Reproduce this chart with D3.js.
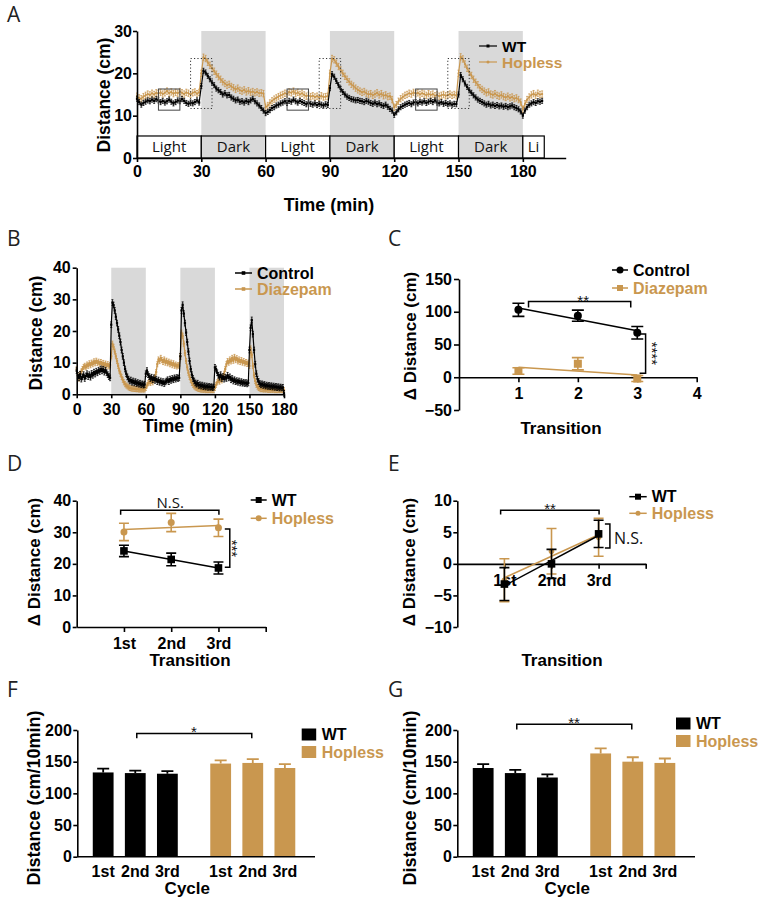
<!DOCTYPE html>
<html>
<head>
<meta charset="utf-8">
<script src="https://cdn.jsdelivr.net/npm/d3@7/dist/d3.min.js"></script>
<style>
html,body{margin:0;padding:0;background:#fff;}
svg{display:block;}
</style>
</head>
<body>
<svg id="fig" width="758" height="900"></svg>
<script>
// ================= DATA =================
// Panel A : distance per 1-min bin, 0–189 min
const aWT = [
 14.0,13.2,12.6,13.0,13.3,13.6,13.4,13.8,13.5,13.9, 13.6,13.2,13.5,13.1,13.4,13.8,13.3,12.9,13.2,13.6, 13.4,13.9,13.5,13.0,12.8,13.1,12.9,13.2,13.6,13.1,
 17.0,20.6,20.2,19.4,18.6,17.8,17.2,16.4,16.0,15.6, 15.0,15.3,14.8,14.9,14.3,14.0,13.6,13.8,13.3,13.4, 13.1,13.5,13.2,13.6,14.0,13.4,12.9,12.4,11.8,11.2,
 10.6,10.9,11.3,11.8,12.0,12.4,12.6,12.9,13.1,13.4, 13.0,13.5,13.3,13.8,13.4,13.1,13.5,13.2,13.0,12.7, 13.1,12.8,12.6,12.9,12.5,12.8,12.6,12.4,12.7,12.5,
 16.5,19.8,19.2,18.2,17.2,16.3,15.6,15.0,14.5,14.2, 13.9,13.8,13.6,13.7,13.5,13.4,13.2,13.5,13.3,13.0, 12.8,13.1,12.7,12.9,12.5,12.3,12.6,12.1,11.6,11.2,
 10.2,10.8,11.5,12.0,12.3,12.6,12.8,13.0,12.7,13.1, 13.2,12.9,13.3,13.1,13.4,13.0,13.3,13.5,13.2,13.6, 13.1,12.9,13.2,12.8,13.0,12.7,12.9,12.6,12.8,12.7,
 15.0,19.6,18.6,17.6,16.8,16.0,15.4,14.8,14.3,13.8, 13.5,13.2,12.9,12.6,12.8,12.4,12.6,12.3,12.5,12.2, 12.4,12.1,12.3,12.0,12.2,12.4,12.0,11.8,11.5,11.0,
 10.0,11.2,12.0,12.6,12.9,13.2,13.0,13.4,13.3,13.5
];
const aHopless = [
 14.6,14.2,14.0,14.5,14.8,15.1,14.9,15.3,15.0,15.4, 15.2,15.5,15.1,15.4,15.8,15.3,15.6,15.2,15.5,15.3, 15.7,15.4,15.1,15.5,15.3,15.0,15.4,15.6,15.2,15.5,
 20.0,23.8,23.5,22.6,21.9,21.2,20.5,19.8,19.2,18.6, 18.0,17.6,17.2,17.4,16.9,16.6,16.2,16.5,16.0,15.8, 16.1,15.6,15.9,15.5,15.7,15.4,15.6,15.3,15.4,15.2,
 12.0,12.4,13.0,13.5,13.9,14.2,14.5,14.8,15.0,15.3, 15.1,15.6,15.4,15.8,15.2,15.5,15.0,15.3,14.9,14.6, 14.8,14.5,14.7,14.4,14.6,14.3,14.7,14.4,14.5,14.6,
 20.0,23.5,23.2,22.4,21.6,20.8,20.0,19.3,18.6,18.0, 17.4,17.0,16.5,16.1,15.8,15.5,15.7,15.3,15.0,15.2, 14.8,15.1,15.4,14.9,15.2,14.7,14.9,14.5,14.6,13.8,
 12.0,12.6,13.4,14.0,14.4,14.8,15.0,15.3,15.1,15.5, 15.2,15.4,15.0,15.3,15.1,14.8,15.2,14.9,15.1,14.7, 14.9,14.6,14.8,15.0,14.7,14.9,15.1,14.8,15.0,14.7,
 20.0,23.9,23.4,22.2,21.2,20.3,19.5,18.6,17.9,17.3, 16.6,16.2,15.8,15.4,15.6,15.1,14.9,15.2,14.8,14.6, 14.9,14.5,14.3,14.6,14.2,14.4,14.0,14.2,13.8,13.2,
 11.5,12.8,13.8,14.4,14.9,15.2,14.8,15.3,15.0,15.1
];
const aSemWT = 0.6, aSemHopless = 0.75;
const aPhaseLabels = ["Light","Dark","Light","Dark","Light","Dark","Li"];
const aPhaseBounds = [0,30,60,90,120,150,180,190];
const aXTicks = [0,30,60,90,120,150,180];
const aYTicks = [0,10,20,30];
const aSolidBoxStarts = [10,70,130];
const aDottedBoxStarts = [25,85,145];

// Panel B : distance per 1-min bin, 0–180 min
const bControl = [
 7.5,6.0,5.2,6.3,4.8,5.5,6.2,5.0,5.8,6.5, 5.6,6.2,5.4,6.6,6.0,7.0,6.4,7.3,6.8,7.6, 7.2,8.0,7.4,7.9,7.0,7.6,6.8,6.2,5.6,5.2,
 22.0,29.0,28.2,26.5,24.5,22.5,20.5,18.5,16.5,14.0, 12.0,10.0,8.0,6.5,5.5,4.8,4.2,4.5,3.8,4.2, 3.6,4.0,3.4,3.7,3.2,3.5,3.0,3.3,2.9,3.1,
 6.5,7.5,6.2,5.6,5.0,5.4,4.6,5.2,4.4,4.8, 4.0,4.5,3.8,4.2,3.6,4.0,3.4,3.9,4.2,4.6, 4.0,4.8,4.4,5.0,4.6,5.2,4.8,5.3,5.0,5.2,
 12.0,26.5,28.3,25.5,22.5,19.5,16.5,13.5,10.5,8.0, 6.2,5.0,4.2,3.6,3.2,3.5,2.8,3.0,2.6,2.9, 2.4,2.7,2.3,2.6,2.2,2.5,2.2,2.4,2.1,2.3,
 8.5,8.0,6.8,6.0,5.4,6.2,5.0,5.6,4.8,5.4, 5.0,6.0,5.2,5.5,4.6,5.0,4.2,4.6,4.0,4.3, 3.8,4.2,3.6,4.0,3.5,3.8,3.4,3.7,3.3,3.6,
 14.0,21.0,23.5,19.0,14.0,9.5,6.5,4.8,4.0,3.4, 3.0,3.3,2.8,3.1,2.6,2.9,2.5,2.8,2.4,2.7, 2.3,2.6,2.2,2.5,2.1,2.4,2.0,2.3,2.0,2.2,
 0.3
];
const bDiazepam = [
 8.0,6.0,5.0,6.5,7.2,8.0,8.6,9.0,8.5,9.4, 9.0,9.8,9.2,10.0,9.5,10.4,9.8,10.6,9.9,10.3, 9.6,10.2,9.4,9.9,9.2,9.7,9.0,9.5,8.8,9.2,
 12.0,16.0,15.0,13.5,12.0,10.5,9.0,7.5,6.5,5.5, 4.6,3.8,3.2,2.8,2.5,2.2,2.0,1.9,1.8,1.8, 1.7,1.7,1.6,1.7,1.5,1.6,1.5,1.6,1.5,1.6,
 2.0,2.8,3.5,4.0,3.6,4.2,3.8,4.5,5.5,7.0, 9.5,11.0,10.5,11.5,10.8,10.2,11.0,10.0,10.6,9.8, 10.3,9.5,10.0,9.2,9.8,9.0,9.4,8.8,9.2,9.0,
 12.0,19.5,18.5,16.0,13.0,10.5,8.5,6.8,5.5,4.5, 3.6,3.0,2.5,2.2,2.0,1.8,1.7,1.6,1.5,1.5, 1.4,1.5,1.3,1.4,1.3,1.4,1.3,1.4,1.3,1.4,
 2.0,3.0,3.8,4.4,4.0,4.8,4.4,5.5,6.5,8.0, 9.5,10.5,10.0,11.0,10.4,11.5,10.6,11.8,10.8,11.4, 10.4,11.0,10.2,10.8,10.0,10.5,9.8,10.2,9.6,10.0,
 9.0,14.5,12.5,9.0,6.0,4.2,3.0,2.4,2.0,1.8, 1.6,1.7,1.5,1.6,1.5,1.6,1.4,1.5,1.4,1.5, 1.4,1.5,1.3,1.4,1.3,1.4,1.3,1.4,1.3,1.4,
 1.3
];
const bSemControl = 0.9, bSemDiazepam = 0.8;
const bDarkStarts = [30,90,150];
const bXTicks = [0,30,60,90,120,150,180];
const bYTicks = [0,10,20,30,40];

// Panel C
const cTransitions = [1,2,3];
const cControl = [103,94,68],  cControlSem = [10,8.5,9.5];
const cDiazepam = [9.6,20.6,-2], cDiazepamSem = [5,9.4,4.6];
const cXTicks = [1,2,3,4];
const cYTicks = [-50,0,50,100,150];

// Panel D
const transLabels = ["1st","2nd","3rd"];
const dWT = [24.1,21.4,18.7],  dWTSem = [1.8,2.0,1.9];
const dHopless = [30.1,33.1,31.4], dHoplessSem = [2.75,2.9,2.75];
const dYTicks = [0,10,20,30,40];

// Panel E
const eWT = [-3.2,0.0,4.75], eWTSem = [2.6,2.3,2.15];
const eHopless = [-2.6,2.0,4.2], eHoplessSem = [3.4,3.6,3.0];
const eYTicks = [-10,-5,0,5,10];

// Panels F & G
const cycles = ["1st","2nd","3rd"];
const groups = ["WT","Hopless"];
const fWT = [133,132,131], fWTSem = [6,4,4];
const fHopless = [147,148,140], fHoplessSem = [5,6,6];
const gWT = [140,132,125], gWTSem = [6,5,5];
const gHopless = [163,150,148], gHoplessSem = [8,7,7];
const barYTicks = [0,50,100,150,200];

// ================= DRAWING =================
const svg = d3.select("#fig");
const BOLD = "'Liberation Sans', Arial, Helvetica, sans-serif";
const SANS = "'Open Sans', 'DejaVu Sans', sans-serif";
const STAR = "'Liberation Sans', Arial, sans-serif";
const TAN = "#c9974f";
const GRAY = "#d9d9d9";

function styleAxis(g, fs) {
  g.attr("font-family", BOLD);
  g.select(".domain").attr("stroke", "#000").attr("stroke-width", 1.6);
  g.selectAll(".tick line").attr("stroke", "#000").attr("stroke-width", 1.6);
  g.selectAll(".tick text").attr("font-family", BOLD).attr("font-weight", "bold")
    .attr("font-size", fs || 16).attr("fill", "#000");
}
function txt(x, y, str, o) {
  o = o || {};
  return svg.append("text").attr("x", x).attr("y", y).text(str)
    .attr("font-family", o.family || BOLD).attr("font-weight", o.weight || "bold")
    .attr("font-size", o.size || 17).attr("fill", o.fill || "#000")
    .attr("text-anchor", o.anchor || "start")
    .attr("dy", o.dy || null);
}
function vtxt(x, y, str, o) {
  o = o || {};
  return svg.append("text").attr("transform", `translate(${x},${y}) rotate(${o.rot || -90})`)
    .attr("text-anchor", "middle").attr("dy", o.dy || "0.36em").text(str)
    .attr("font-family", o.family || BOLD).attr("font-weight", o.weight || "bold")
    .attr("font-size", o.size || 17).attr("fill", o.fill || "#000");
}
function panelLabel(s, x, y) { txt(x, y, s, {family: SANS, weight: "normal", size: 21, fill: "#222"}); }
function stars(x, y, s, o) {
  o = o || {};
  return txt(x, y, s, {family: STAR, weight: "normal", size: o.size || 15, anchor: "middle", fill: "#111"})
    .style("font-variant-emoji", "text");
}

// time-series with SEM bars
function drawSeries(g, vals, sem, x, y, color, marker) {
  const pts = vals.map((v, i) => ({t: i, v: v}));
  g.append("g").selectAll("path").data(pts).join("path")
    .attr("d", d => {
      const xx = x(d.t), y1 = y(d.v - sem), y2 = y(d.v + sem);
      return `M${xx - 1},${y1}H${xx + 1}M${xx},${y1}V${y2}M${xx - 1},${y2}H${xx + 1}`;
    })
    .attr("stroke", color).attr("stroke-width", 0.8).attr("fill", "none");
  g.append("path").datum(pts)
    .attr("d", d3.line().x(d => x(d.t)).y(d => y(d.v)))
    .attr("fill", "none").attr("stroke", color).attr("stroke-width", 1.2);
  if (marker === "square") {
    g.append("g").selectAll("rect").data(pts).join("rect")
      .attr("x", d => x(d.t) - 1.1).attr("y", d => y(d.v) - 1.1)
      .attr("width", 2.2).attr("height", 2.2).attr("fill", color);
  } else {
    g.append("g").selectAll("circle").data(pts).join("circle")
      .attr("cx", d => x(d.t)).attr("cy", d => y(d.v)).attr("r", 1.1).attr("fill", color);
  }
}

function legendLine(x1, x2, yy, color, marker, label, o) {
  o = o || {};
  svg.append("line").attr("x1", x1).attr("x2", x2).attr("y1", yy).attr("y2", yy)
    .attr("stroke", color).attr("stroke-width", o.lw || 1.5);
  const mx = (x1 + x2) / 2, ms = o.ms || 3;
  if (marker === "square") svg.append("rect").attr("x", mx - ms).attr("y", yy - ms).attr("width", 2 * ms).attr("height", 2 * ms).attr("fill", color);
  else svg.append("circle").attr("cx", mx).attr("cy", yy).attr("r", ms).attr("fill", color);
  txt(x2 + (o.gap || 5), yy, label, {size: o.size || 16, fill: color, dy: "0.36em", weight: o.weight || "bold"});
}

// ---------- Panel A ----------
(function () {
  const x = d3.scaleLinear().domain([0, 200]).range([137, 565.7]);
  const y = d3.scaleLinear().domain([0, 30]).range([158, 31]);
  const g = svg.append("g");
  const phases = aPhaseLabels.map((l, i) => ({label: l, s: aPhaseBounds[i], e: aPhaseBounds[i + 1]}));
  g.selectAll("rect.shade").data(phases.filter(p => p.label === "Dark")).join("rect").attr("class", "shade")
    .attr("x", p => x(p.s)).attr("width", p => x(p.e) - x(p.s))
    .attr("y", y(30)).attr("height", y(0) - y(30)).attr("fill", GRAY);
  g.selectAll("rect.phase").data(phases).join("rect").attr("class", "phase")
    .attr("x", p => x(p.s)).attr("width", p => x(p.e) - x(p.s))
    .attr("y", y(5.2)).attr("height", y(0) - y(5.2))
    .attr("fill", p => p.label === "Dark" ? GRAY : "#fff").attr("stroke", "#000").attr("stroke-width", 1.2);
  g.selectAll("text.phase").data(phases).join("text").attr("class", "phase")
    .attr("x", p => (x(p.s) + x(p.e)) / 2).attr("y", y(2.6)).attr("dy", "0.36em")
    .attr("text-anchor", "middle").attr("font-family", SANS).attr("font-size", 15).attr("fill", "#111")
    .text(p => p.label);

  drawSeries(g, aHopless, aSemHopless, x, y, TAN, "circle");
  drawSeries(g, aWT, aSemWT, x, y, "#000", "square");

  g.selectAll("rect.sbox").data(aSolidBoxStarts).join("rect").attr("class", "sbox")
    .attr("x", t => x(t)).attr("width", t => x(t + 10) - x(t))
    .attr("y", y(16.3)).attr("height", y(11.3) - y(16.3))
    .attr("fill", "none").attr("stroke", "#444").attr("stroke-width", 1);
  g.selectAll("rect.dbox").data(aDottedBoxStarts).join("rect").attr("class", "dbox")
    .attr("x", t => x(t)).attr("width", t => x(t + 10) - x(t))
    .attr("y", y(23.5)).attr("height", y(11.7) - y(23.5))
    .attr("fill", "none").attr("stroke", "#333").attr("stroke-width", 1).attr("stroke-dasharray", "1.2,2.2");

  styleAxis(g.append("g").attr("transform", `translate(0,${y(0)})`)
    .call(d3.axisBottom(x).tickValues(aXTicks).tickSize(4).tickPadding(4).tickSizeOuter(0)));
  styleAxis(g.append("g").attr("transform", `translate(${x(0)},0)`)
    .call(d3.axisLeft(y).tickValues(aYTicks).tickSize(4).tickPadding(1).tickSizeOuter(0)));

  vtxt(104, 95, "Distance (cm)", {size: 17.5});
  txt(329, 211, "Time (min)", {size: 18, anchor: "middle"});
  legendLine(479, 497, 46, "#000", "square", "WT", {ms: 1.5, lw: 1.2, size: 15.5});
  legendLine(479, 497, 62, TAN, "circle", "Hopless", {ms: 1.5, lw: 1.2, size: 15.5});
})();

// ---------- Panel B ----------
(function () {
  const x = d3.scaleLinear().domain([0, 180]).range([76.7, 284]);
  const y = d3.scaleLinear().domain([0, 40]).range([394.3, 267.7]);
  const g = svg.append("g");
  g.selectAll("rect.shade").data(bDarkStarts).join("rect").attr("class", "shade")
    .attr("x", t => x(t)).attr("width", t => x(t + 30) - x(t))
    .attr("y", y(40)).attr("height", y(0) - y(40)).attr("fill", GRAY);
  drawSeries(g, bDiazepam, bSemDiazepam, x, y, TAN, "square");
  drawSeries(g, bControl, bSemControl, x, y, "#000", "square");
  styleAxis(g.append("g").attr("transform", `translate(0,${y(0)})`)
    .call(d3.axisBottom(x).tickValues(bXTicks).tickSize(4).tickPadding(5).tickSizeOuter(0)));
  styleAxis(g.append("g").attr("transform", `translate(${x(0)},0)`)
    .call(d3.axisLeft(y).tickValues(bYTicks).tickSize(4).tickPadding(2).tickSizeOuter(0)));
  vtxt(36, 333, "Distance (cm)", {size: 17.5});
  txt(188, 432, "Time (min)", {size: 18, anchor: "middle"});
  legendLine(235, 252, 273, "#000", "square", "Control", {ms: 1.8, size: 16});
  legendLine(235, 252, 289, TAN, "square", "Diazepam", {ms: 1.8, size: 16});
})();

// ---------- generic XY (C, D, E) ----------
function linreg(xs, ys) {
  const mx = d3.mean(xs), my = d3.mean(ys);
  const b = d3.sum(xs.map((v, i) => (v - mx) * (ys[i] - my))) / d3.sum(xs.map(v => (v - mx) * (v - mx)));
  return {a: my - b * mx, b: b};
}
function drawXYSeries(g, x, y, xs, means, sems, color, marker, ms, capW) {
  const pts = xs.map((t, i) => ({t: t, v: means[i], s: sems[i]}));
  const r = linreg(xs, means);
  g.append("line").attr("x1", x(d3.min(xs))).attr("x2", x(d3.max(xs)))
    .attr("y1", y(r.a + r.b * d3.min(xs))).attr("y2", y(r.a + r.b * d3.max(xs)))
    .attr("stroke", color).attr("stroke-width", 1.5);
  g.append("g").selectAll("path").data(pts).join("path")
    .attr("d", d => {
      const xx = x(d.t), y1 = y(d.v - d.s), y2 = y(d.v + d.s), h = capW / 2;
      return `M${xx - h},${y1}H${xx + h}M${xx},${y1}V${y2}M${xx - h},${y2}H${xx + h}`;
    })
    .attr("stroke", color).attr("stroke-width", 1.6).attr("fill", "none");
  if (marker === "square") {
    g.append("g").selectAll("rect").data(pts).join("rect")
      .attr("x", d => x(d.t) - ms).attr("y", d => y(d.v) - ms)
      .attr("width", 2 * ms).attr("height", 2 * ms).attr("fill", color);
  } else {
    g.append("g").selectAll("circle").data(pts).join("circle")
      .attr("cx", d => x(d.t)).attr("cy", d => y(d.v)).attr("r", ms).attr("fill", color);
  }
}
function bracketH(g, x1, x2, yy, drop) {
  g.append("path").attr("d", `M${x1},${yy + drop}V${yy}H${x2}V${yy + drop}`)
    .attr("fill", "none").attr("stroke", "#000").attr("stroke-width", 1.5);
}
function bracketV(g, xx, y1, y2, w) {
  g.append("path").attr("d", `M${xx - w},${y1}H${xx}V${y2}H${xx - w}`)
    .attr("fill", "none").attr("stroke", "#000").attr("stroke-width", 1.5);
}
function vstars(x, y, s) {
  svg.append("text").attr("transform", `translate(${x},${y}) rotate(90)`)
    .attr("text-anchor", "middle").attr("dy", "0.6em").text(s)
    .attr("font-family", STAR).attr("font-size", 15).attr("fill", "#111")
    .style("font-variant-emoji", "text");
}

// ---------- Panel C ----------
(function () {
  const x = d3.scaleLinear().domain([0, 4]).range([459, 696.7]);
  const y = d3.scaleLinear().domain([-50, 150]).range([410, 279]);
  const g = svg.append("g");
  styleAxis(g.append("g").attr("transform", `translate(0,${y(0)})`)
    .call(d3.axisBottom(x).tickValues(cXTicks).tickFormat(d3.format("d")).tickSize(5).tickPadding(5).tickSizeOuter(0)));
  styleAxis(g.append("g").attr("transform", `translate(${x(0)},0)`)
    .call(d3.axisLeft(y).tickValues(cYTicks).tickFormat(d3.format("d")).tickSize(5).tickPadding(2).tickSizeOuter(0)));
  drawXYSeries(g, x, y, cTransitions, cDiazepam, cDiazepamSem, TAN, "square", 4, 12);
  drawXYSeries(g, x, y, cTransitions, cControl, cControlSem, "#000", "circle", 4, 12);
  bracketH(g, x(1.17), x(2.89), y(115.5), 6);
  stars(x(2.09), y(115.5) + 4, "**");
  bracketV(g, x(3.14), y(66), y(6), 6);
  vstars(x(3.32), y(36.5), "****");
  vtxt(410, 336, "\u0394 Distance (cm)", {size: 17});
  txt(561, 434, "Transition", {size: 17, anchor: "middle"});
  legendLine(612, 628, 270, "#000", "circle", "Control", {ms: 3.5, size: 16});
  legendLine(612, 628, 288, TAN, "square", "Diazepam", {ms: 3, size: 16});
})();

// ---------- Panel D ----------
(function () {
  const x = d3.scaleLinear().domain([0, 4]).range([76.7, 265.7]);
  const y = d3.scaleLinear().domain([0, 40]).range([627, 500.7]);
  const g = svg.append("g");
  styleAxis(g.append("g").attr("transform", `translate(0,${y(0)})`)
    .call(d3.axisBottom(x).tickValues([1, 2, 3, 4]).tickFormat(d => transLabels[d - 1] || "")
      .tickSize(5).tickPadding(5.5).tickSizeOuter(0)));
  styleAxis(g.append("g").attr("transform", `translate(${x(0)},0)`)
    .call(d3.axisLeft(y).tickValues(dYTicks).tickSize(4).tickPadding(1.5).tickSizeOuter(0)));
  drawXYSeries(g, x, y, [1, 2, 3], dHopless, dHoplessSem, TAN, "circle", 3.5, 10);
  drawXYSeries(g, x, y, [1, 2, 3], dWT, dWTSem, "#000", "square", 3.8, 10);
  bracketH(g, x(0.93), x(3.01), y(37.0), 4.5);
  txt(x(1.98), 508, "N.S.", {family: SANS, weight: "normal", size: 15, anchor: "middle", fill: "#111"});
  bracketV(g, x(3.24), y(31), y(18.9), 5);
  vstars(x(3.38), y(24.9), "***");
  vtxt(34, 562, "\u0394 Distance (cm)", {size: 17});
  txt(190, 666, "Transition", {size: 17, anchor: "middle"});
  legendLine(250.7, 266.7, 500, "#000", "square", "WT", {ms: 3, size: 16});
  legendLine(250.7, 266.7, 518.3, TAN, "circle", "Hopless", {ms: 3, size: 16});
})();

// ---------- Panel E ----------
(function () {
  const x = d3.scaleLinear().domain([0, 4]).range([457.3, 645.7]);
  const y = d3.scaleLinear().domain([-10, 10]).range([627, 500.7]);
  const g = svg.append("g");
  styleAxis(g.append("g").attr("transform", `translate(0,${y(0)})`)
    .call(d3.axisBottom(x).tickValues([1, 2, 3, 4]).tickFormat(d => transLabels[d - 1] || "")
      .tickSize(5).tickPadding(5.5).tickSizeOuter(0)));
  styleAxis(g.append("g").attr("transform", `translate(${x(0)},0)`)
    .call(d3.axisLeft(y).tickValues(eYTicks).tickSize(4).tickPadding(1.5).tickSizeOuter(0)));
  drawXYSeries(g, x, y, [1, 2, 3], eHopless, eHoplessSem, TAN, "circle", 2.8, 10);
  drawXYSeries(g, x, y, [1, 2, 3], eWT, eWTSem, "#000", "square", 3.8, 10);
  bracketH(g, x(0.92), x(3.01), y(8.5), 4.3);
  stars(x(1.97), 513.5, "**");
  bracketV(g, x(3.24), y(6.3), y(2.5), 5);
  txt(614, 543.5, "N.S.", {family: SANS, weight: "normal", size: 16, fill: "#111"});
  vtxt(409, 562, "\u0394 Distance (cm)", {size: 17});
  txt(562, 666, "Transition", {size: 17, anchor: "middle"});
  legendLine(629.3, 646.7, 496.7, "#000", "square", "WT", {ms: 3, size: 16});
  legendLine(629.3, 646.7, 513.3, TAN, "circle", "Hopless", {ms: 2.5, size: 16});
})();

// ---------- Panels F & G ----------
function drawBarPanel(x0, wt, wtSem, hop, hopSem, sigLevel, sigDrop, sigText, titleX, leg) {
  const y = d3.scaleLinear().domain([0, 200]).range([856.7, 730]);
  const outer = d3.scaleBand().domain(groups).range([x0, x0 + 237.7])
    .paddingInner(0.1).paddingOuter(0.0615).align(0.353);
  const inner = d3.scaleBand().domain(cycles).range([0, outer.bandwidth()])
    .paddingInner(0.352).paddingOuter(0.323);
  const color = {WT: "#000", Hopless: TAN};
  const rows = groups.flatMap(gr => cycles.map((c, i) => ({
    gr: gr, c: c, v: gr === "WT" ? wt[i] : hop[i], s: gr === "WT" ? wtSem[i] : hopSem[i]
  })));
  const g = svg.append("g");
  const cx = d => outer(d.gr) + inner(d.c) + inner.bandwidth() / 2;
  g.selectAll("path.err").data(rows).join("path").attr("class", "err")
    .attr("d", d => `M${cx(d)},${y(d.v)}V${y(d.v + d.s)}M${cx(d) - 6},${y(d.v + d.s)}H${cx(d) + 6}`)
    .attr("stroke", d => color[d.gr]).attr("stroke-width", 1.8).attr("fill", "none");
  g.selectAll("rect.bar").data(rows).join("rect").attr("class", "bar")
    .attr("x", d => outer(d.gr) + inner(d.c)).attr("width", inner.bandwidth())
    .attr("y", d => y(d.v)).attr("height", d => y(0) - y(d.v)).attr("fill", d => color[d.gr]);
  g.selectAll("text.cyc").data(rows).join("text").attr("class", "cyc")
    .attr("x", cx).attr("y", y(0) + 9.3).attr("dy", "0.71em").attr("text-anchor", "middle")
    .attr("font-family", BOLD).attr("font-weight", "bold").attr("font-size", 16).text(d => d.c);
  g.append("line").attr("x1", x0).attr("x2", x0 + 237.7).attr("y1", y(0)).attr("y2", y(0))
    .attr("stroke", "#000").attr("stroke-width", 1.6);
  styleAxis(g.append("g").attr("transform", `translate(${x0},0)`)
    .call(d3.axisLeft(y).tickValues(barYTicks).tickSize(4).tickPadding(1.5).tickSizeOuter(0)));
  const bx1 = cx({gr: "WT", c: "2nd"}), bx2 = cx({gr: "Hopless", c: "2nd"});
  bracketH(g, bx1 + 1.5, bx2 - 1, y(sigLevel), y(sigLevel - sigDrop) - y(sigLevel));
  stars((bx1 + bx2) / 2, y(sigLevel) + 4, sigText);
  vtxt(titleX, 798, "Distance (cm/10min)", {size: 18});
  txt(x0 + 110, 894, "Cycle", {size: 17, anchor: "middle"});
  // legend
  groups.forEach((gr, i) => {
    svg.append("rect").attr("x", leg.x).attr("y", leg.y + i * leg.dy - 6).attr("width", 14.5).attr("height", 12)
      .attr("fill", color[gr]);
    txt(leg.x + 20, leg.y + i * leg.dy, gr, {size: 16, fill: color[gr], dy: "0.36em"});
  });
}
drawBarPanel(77.3, fWT, fWTSem, fHopless, fHoplessSem, 194.6, 7.8, "*", 34, {x: 301.7, y: 734.5, dy: 17.5});
drawBarPanel(457.3, gWT, gWTSem, gHopless, gHoplessSem, 209, 8.3, "**", 410, {x: 676, y: 723.5, dy: 17.5});

// ---------- Panel letters ----------
panelLabel("A", 7, 22);
panelLabel("B", 7, 246);
panelLabel("C", 388, 246);
panelLabel("D", 7, 471);
panelLabel("E", 388, 471);
panelLabel("F", 7, 697);
panelLabel("G", 388, 697);
</script>
</body>
</html>
